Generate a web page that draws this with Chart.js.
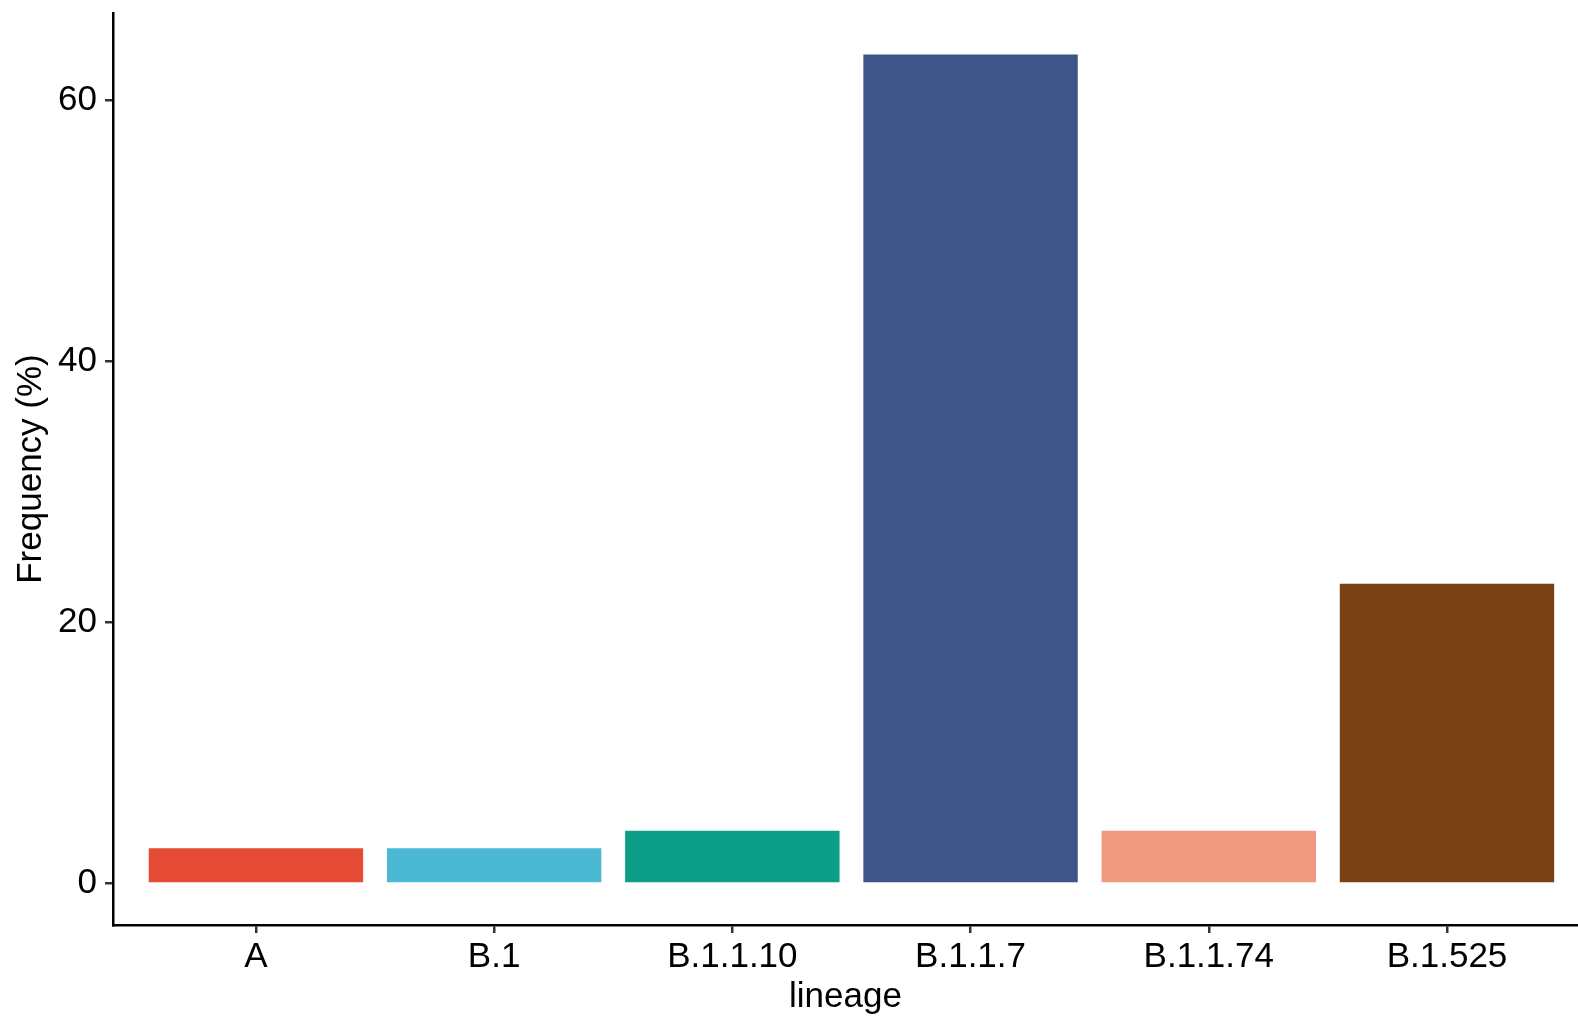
<!DOCTYPE html>
<html>
<head>
<meta charset="utf-8">
<script src="https://cdn.jsdelivr.net/npm/chart.js@4"></script>
<style>
  html, body { margin: 0; padding: 0; background: #fff; }
  #wrap { width: 1578px; height: 1020px; position: relative; }
</style>
</head>
<body>
<div id="wrap"><canvas id="freqChart"></canvas></div>
<script>
// lineage frequencies (n = 74 samples)
const lineage = ["A", "B.1", "B.1.1.10", "B.1.1.7", "B.1.1.74", "B.1.525"];
const frequency = [2.70, 2.70, 4.05, 63.51, 4.05, 22.97];
const barColors = ["#E64B35", "#4BB9D3", "#0C9E87", "#3D5687", "#F1997F", "#7A4115"];
const yTicks = [0, 20, 40, 60];

const FONT = "'Liberation Sans', Arial, Helvetica, sans-serif";
const FSIZE = 35;

// ggplot-ish expansion: 5% on y, ~0.6 units on the discrete x axis (right side cropped a little)
const yMaxData = Math.max(...frequency);
const yMin = -0.05 * yMaxData;
const yMax = yMaxData * 1.05;

const points = lineage.map((l, i) => ({ x: i + 1, y: frequency[i] }));

function noEdgePadding(s) {
  s.paddingTop = 0; s.paddingBottom = 0; s.paddingLeft = 0; s.paddingRight = 0;
}

new Chart(document.getElementById('freqChart').getContext('2d'), {
  type: 'bar',
  data: {
    datasets: [{
      data: points,
      backgroundColor: barColors,
      borderWidth: 0,
      categoryPercentage: 1,
      barPercentage: 0.9
    }]
  },
  options: {
    responsive: true,
    maintainAspectRatio: false,
    animation: false,
    layout: { padding: { top: 13, right: 0, left: 0, bottom: 0 } },
    plugins: {
      legend: { display: false },
      tooltip: { enabled: false }
    },
    scales: {
      x: {
        type: 'linear',
        offset: false,
        min: 0.4,
        max: lineage.length + 0.55,
        afterBuildTicks: s => { s.ticks = lineage.map((_, i) => ({ value: i + 1 })); },
        afterFit: s => { s.height = 95; noEdgePadding(s); },
        grid: { offset: false, drawOnChartArea: false, drawTicks: true, tickLength: 8, color: '#333333', lineWidth: 2.5 },
        border: { display: true, color: '#000', width: 2.5 },
        ticks: {
          color: '#000',
          padding: 3,
          maxRotation: 0,
          autoSkip: false,
          font: { family: FONT, size: FSIZE },
          callback: v => lineage[v - 1] || ''
        },
        title: {
          display: true,
          text: 'lineage',
          color: '#000',
          font: { family: FONT, size: FSIZE },
          padding: { top: 0, bottom: 2 }
        }
      },
      y: {
        min: yMin,
        max: yMax,
        afterBuildTicks: s => { s.ticks = yTicks.map(v => ({ value: v })); },
        afterFit: s => { s.width = 113; noEdgePadding(s); },
        grid: { drawOnChartArea: false, drawTicks: true, tickLength: 8, color: '#333333', lineWidth: 2.5 },
        border: { display: true, color: '#000', width: 2.5 },
        ticks: {
          color: '#000',
          padding: 8,
          font: { family: FONT, size: FSIZE }
        },
        title: {
          display: true,
          text: 'Frequency (%)',
          color: '#000',
          font: { family: FONT, size: FSIZE },
          padding: { top: 10, bottom: 0 }
        }
      }
    }
  }
});
</script>
</body>
</html>
